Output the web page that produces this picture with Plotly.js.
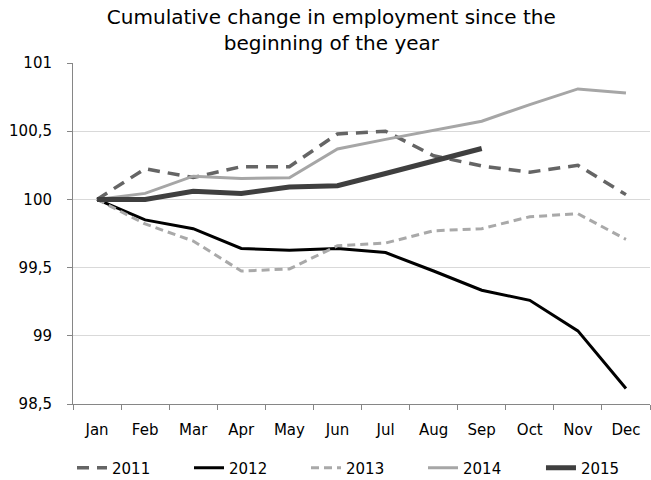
<!DOCTYPE html>
<html><head><meta charset="utf-8">
<script src="https://cdn.plot.ly/plotly-3.0.1.min.js"></script>
<style>html,body{margin:0;padding:0;background:#fff}</style>
</head><body>
<div id="chart" style="width:651px;height:480px"></div>
<script>
const months = ["Jan","Feb","Mar","Apr","May","Jun","Jul","Aug","Sep","Oct","Nov","Dec"];
const y2011 = [100, 100.225, 100.16, 100.24, 100.24, 100.48, 100.5, 100.32, 100.245, 100.2, 100.25, 100.035];
const y2012 = [100, 99.85, 99.785, 99.64, 99.627, 99.64, 99.61, 99.475, 99.334, 99.26, 99.036, 98.614];
const y2013 = [100, 99.82, 99.695, 99.475, 99.49, 99.66, 99.68, 99.77, 99.785, 99.873, 99.895, 99.707];
const y2014 = [100, 100.044, 100.17, 100.154, 100.159, 100.37, 100.44, 100.505, 100.573, 100.695, 100.81, 100.78];
const y2015 = [100, 100.0, 100.06, 100.044, 100.09, 100.10, 100.19, 100.285, 100.373];
const seriesNames = ["2011","2012","2013","2014","2015"];

const traces = [
  {x: months, y: y2011, name: seriesNames[0], mode: "lines", line: {color: "#656565", width: 3.5, dash: "12px,8px"}},
  {x: months, y: y2012, name: seriesNames[1], mode: "lines", line: {color: "#000000", width: 3}},
  {x: months, y: y2013, name: seriesNames[2], mode: "lines", line: {color: "#a9a9a9", width: 3, dash: "8px,5px"}},
  {x: months, y: y2014, name: seriesNames[3], mode: "lines", line: {color: "#a6a6a6", width: 3}},
  {x: months.slice(0, y2015.length), y: y2015, name: seriesNames[4], mode: "lines", line: {color: "#3f3f3f", width: 5}, legend: "legend2"}
];

const layout = {
  width: 651, height: 480,
  margin: {l: 73, r: 1, t: 63, b: 76},
  separators: ", ",
  paper_bgcolor: "#fff", plot_bgcolor: "#fff",
  font: {family: "DejaVu Sans, Verdana, sans-serif", size: 15, color: "#000"},
  title: {text: "Cumulative change in employment since the<br>beginning of the year",
          font: {size: 20, color: "#000"}, x: 0.509, xanchor: "center", y: 0.95, yanchor: "top"},
  xaxis: {type: "category", showline: true, linecolor: "#868686", linewidth: 1,
          ticks: "outside", tickson: "boundaries", ticklen: 5, tickcolor: "#868686",
          showgrid: false, zeroline: false, range: [-0.5, 11.5], tickfont: {size: 15},
          ticklabelstandoff: 12},
  yaxis: {range: [98.5, 101], dtick: 0.5, tick0: 98.5, showline: true, linecolor: "#868686", linewidth: 1,
          ticks: "outside", ticklen: 5, tickcolor: "#868686", gridcolor: "#d9d9d9", gridwidth: 1,
          zeroline: false, tickfont: {size: 15}, ticklabelstandoff: 12},
  showlegend: true,
  legend: {orientation: "h", xref: "container", x: 0.1106, xanchor: "left", yref: "container", y: 0.025, yanchor: "middle",
           entrywidth: 72, entrywidthmode: "pixels", font: {size: 15}, traceorder: "normal"},
  legend2: {orientation: "h", xref: "container", x: 0.831, xanchor: "left", yref: "container", y: 0.025, yanchor: "middle",
           font: {size: 15}}
};

Plotly.newPlot("chart", traces, layout, {displayModeBar: false, staticPlot: true});
</script>
</body></html>
